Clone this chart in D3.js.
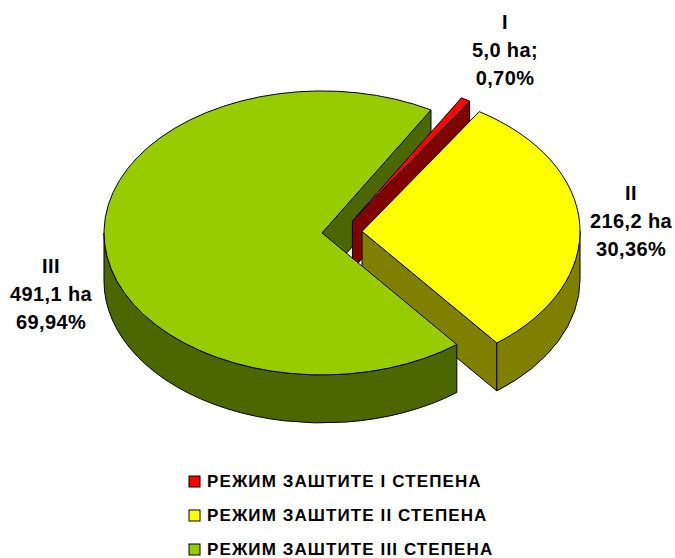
<!DOCTYPE html>
<html>
<head>
<meta charset="utf-8">
<script src="https://cdn.jsdelivr.net/npm/d3@7"></script>
<style>
  body { margin: 0; background: #fff; }
  text { font-family: "Liberation Sans", Arial, sans-serif; font-weight: bold; fill: #000; }
</style>
</head>
<body>
<div id="chart"></div>
<script>
// data
var categories = ["I", "II", "III"];
var areas = [5.0, 216.2, 491.1];
var areaLabels = ["5,0 ha;", "216,2 ha", "491,1 ha"];
var percentLabels = ["0,70%", "30,36%", "69,94%"];
var legendLabels = ["РЕЖИМ ЗАШТИТЕ I СТЕПЕНА", "РЕЖИМ ЗАШТИТЕ II СТЕПЕНА", "РЕЖИМ ЗАШТИТЕ III СТЕПЕНА"];

// styles
var topColors = ["#ff0000", "#ffff00", "#99cc00"];
var sideColors = ["#800000", "#808000", "#4c6600"];

// layout
var width = 675, height = 558;
var cx = 342, cy = 232, rx = 218, ry = 142, depth = 48;
var explode = 0.092;
var firstAngle = 30 * Math.PI / 180;
var labelAt = [[505, 50], [631, 221], [51, 294]];

var svg = d3.select("#chart").append("svg")
    .attr("width", width)
    .attr("height", height);

var pie = d3.pie()
    .sort(null)
    .value(function(d) { return d; })
    .startAngle(firstAngle)
    .endAngle(firstAngle + 2 * Math.PI);

var arcs = pie(areas).map(function(a, i) {
  var mid = (a.startAngle + a.endAngle) / 2;
  a.i = i;
  a.ox = cx + explode * rx * Math.sin(mid);
  a.oy = cy - explode * ry * Math.cos(mid);
  return a;
});

// point on the ellipse of slice a at angle t, z = 0 top, z = depth bottom
function pt(a, t, z) {
  return [a.ox + rx * Math.sin(t), a.oy - ry * Math.cos(t) + (z || 0)];
}

function topPath(a) {
  var p0 = pt(a, a.startAngle), p1 = pt(a, a.endAngle);
  var large = (a.endAngle - a.startAngle) > Math.PI ? 1 : 0;
  return "M" + a.ox + "," + a.oy + "L" + p0 + "A" + rx + "," + ry + " 0 " + large + " 1 " + p1 + "Z";
}

function radialPath(a, t) {
  var p = pt(a, t);
  return "M" + a.ox + "," + a.oy + "L" + p + "L" + [p[0], p[1] + depth] +
    "L" + [a.ox, a.oy + depth] + "Z";
}

// visible part of the outer wall lies between 90 and 270 degrees
function sidePath(a) {
  var lo = Math.PI / 2, hi = 3 * Math.PI / 2;
  var s = a.startAngle, e = a.endAngle;
  var out = null;
  [0, 2 * Math.PI].forEach(function(k) {
    var s1 = Math.max(s, lo + k), e1 = Math.min(e, hi + k);
    if (e1 > s1) out = [s1, e1];
  });
  if (!out) return null;
  var p0 = pt(a, out[0]), p1 = pt(a, out[1]);
  var b0 = pt(a, out[0], depth), b1 = pt(a, out[1], depth);
  return "M" + p0 + "A" + rx + "," + ry + " 0 0 1 " + p1 + "L" + b1 +
    "A" + rx + "," + ry + " 0 0 0 " + b0 + "Z";
}

var g = svg.append("g");

// cut faces at the end of each slice, back ones first
arcs.slice()
  .filter(function(a) { return Math.sin(a.endAngle) > 0; })
  .sort(function(a, b) { return (a.endAngle % (2 * Math.PI)) - (b.endAngle % (2 * Math.PI)); })
  .forEach(function(a) {
    g.append("path")
      .attr("d", radialPath(a, a.endAngle))
      .attr("fill", sideColors[a.i])
      .attr("stroke", "#000")
      .attr("stroke-width", 1)
      .attr("stroke-linejoin", "round");
  });

// outer walls
arcs.forEach(function(a) {
  var d = sidePath(a);
  if (!d) return;
  g.append("path")
    .attr("d", d)
    .attr("fill", sideColors[a.i])
    .attr("stroke", "#000")
    .attr("stroke-width", 1)
    .attr("stroke-linejoin", "round");
});

// tops
arcs.forEach(function(a) {
  g.append("path")
    .attr("d", topPath(a))
    .attr("fill", topColors[a.i])
    .attr("stroke", "#000")
    .attr("stroke-width", 1)
    .attr("stroke-linejoin", "round");
});

// data labels
arcs.forEach(function(a) {
  var t = svg.append("text")
    .attr("text-anchor", "middle")
    .style("font-size", "20px")
    .style("letter-spacing", "0.4px");
  var lines = [categories[a.i], areaLabels[a.i], percentLabels[a.i]];
  lines.forEach(function(s, j) {
    t.append("tspan")
      .attr("x", labelAt[a.i][0])
      .attr("y", labelAt[a.i][1] + (j - 1) * 28 + 7)
      .text(s);
  });
});

// legend
var legend = svg.append("g").attr("transform", "translate(189,481)");
legendLabels.forEach(function(s, i) {
  var row = legend.append("g").attr("transform", "translate(0," + i * 34 + ")");
  row.append("rect")
    .attr("x", 0).attr("y", -5)
    .attr("width", 11).attr("height", 11)
    .attr("fill", topColors[i])
    .attr("stroke", "#000")
    .attr("stroke-width", 1);
  row.append("text")
    .attr("x", 18)
    .attr("y", 6)
    .style("font-size", "17px")
    .style("letter-spacing", "1.1px")
    .text(s);
});
</script>
</body>
</html>
